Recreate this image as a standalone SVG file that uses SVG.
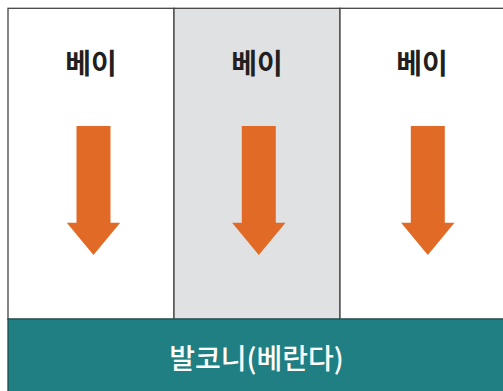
<svg xmlns="http://www.w3.org/2000/svg" width="503" height="391" viewBox="0 0 503 391">
<defs>
<style>
.cell{stroke:#444;stroke-width:1.3}
.lbl{font-family:"Noto Sans CJK KR","Noto Sans",sans-serif;font-size:28px;font-weight:bold;fill:#231f20;text-anchor:middle}
.arrow{fill:#E06A26}
.bal{font-family:"Noto Sans CJK KR","Noto Sans",sans-serif;font-size:28px;font-weight:500;fill:#fff;text-anchor:middle}
</style>
<polygon id="arr" points="-17,0 17,0 17,96.7 26.7,96.7 0,129 -26.7,96.7 -17,96.7"/>
</defs>
<rect width="503" height="391" fill="#fff"/>
<g id="bay1">
<rect class="cell" x="8" y="8.3" width="166" height="311" fill="#fff"/>
<text class="lbl" x="91" y="74">베이</text>
<use href="#arr" class="arrow" x="93.5" y="126"/>
</g>
<g id="bay2">
<rect class="cell" x="174" y="8.3" width="166" height="311" fill="#E0E1E3"/>
<text class="lbl" x="257" y="74">베이</text>
<use href="#arr" class="arrow" x="258.8" y="126"/>
</g>
<g id="bay3">
<rect class="cell" x="340" y="8.3" width="170" height="311" fill="#fff"/>
<text class="lbl" x="422" y="74">베이</text>
<use href="#arr" class="arrow" x="427.8" y="126"/>
</g>
<g id="balcony">
<rect x="8" y="319" width="500" height="80" fill="#207F82" stroke="#1d4f50" stroke-width="1.3"/>
<text class="bal" x="256.5" y="369">발코니(베란다)</text>
</g>
<g id="connectors"/>
</svg>
